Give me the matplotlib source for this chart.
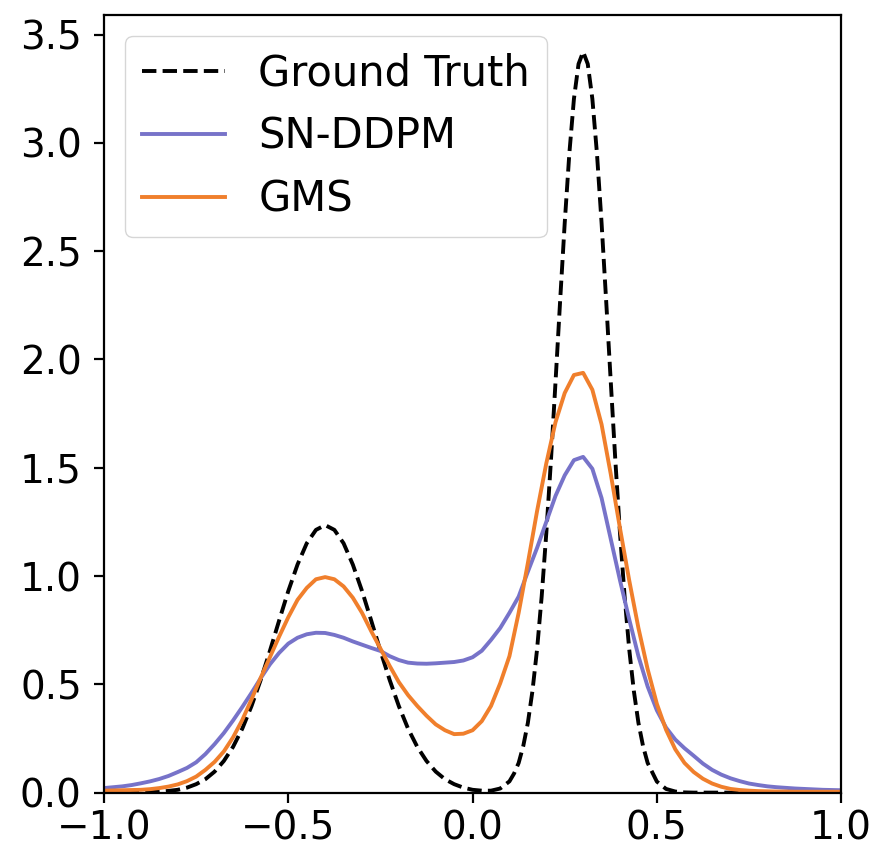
import matplotlib

matplotlib.use("Agg")
import matplotlib.pyplot as plt
import numpy as np

# common x grid for the two model densities (step 0.025)
x_grid = np.round(np.arange(-1.0, 1.0001, 0.025), 4)

sn_ddpm = [
    0.021, 0.025, 0.029, 0.035, 0.043, 0.052, 0.063, 0.077, 0.095, 0.114,
    0.140, 0.178, 0.224, 0.275, 0.333, 0.395, 0.460, 0.528, 0.592, 0.645,
    0.688, 0.715, 0.731, 0.738, 0.737, 0.728, 0.715, 0.698, 0.683, 0.668,
    0.654, 0.630, 0.612, 0.600, 0.596, 0.595, 0.597, 0.600, 0.603, 0.610,
    0.625, 0.655, 0.705, 0.760, 0.830, 0.905, 1.020, 1.130, 1.250, 1.370,
    1.465, 1.535, 1.550, 1.495, 1.360, 1.170, 0.980, 0.800, 0.630, 0.490,
    0.380, 0.300, 0.245, 0.205, 0.170, 0.134, 0.105, 0.083, 0.066, 0.053,
    0.042, 0.035, 0.029, 0.025, 0.022, 0.019, 0.017, 0.015, 0.013, 0.012,
    0.011,
]

gms = [
    0.009, 0.010, 0.011, 0.012, 0.013, 0.016, 0.021, 0.028, 0.038, 0.053,
    0.074, 0.105, 0.142, 0.190, 0.255, 0.335, 0.430, 0.530, 0.625, 0.720,
    0.810, 0.890, 0.945, 0.985, 0.995, 0.985, 0.952, 0.900, 0.830, 0.745,
    0.665, 0.585, 0.510, 0.450, 0.400, 0.355, 0.315, 0.288, 0.270, 0.272,
    0.288, 0.330, 0.400, 0.505, 0.630, 0.830, 1.060, 1.300, 1.520, 1.710,
    1.845, 1.928, 1.938, 1.860, 1.700, 1.470, 1.220, 0.980, 0.760, 0.570,
    0.410, 0.290, 0.200, 0.137, 0.095, 0.064, 0.042, 0.027, 0.017, 0.012,
    0.009, 0.007, 0.006, 0.005, 0.005, 0.004, 0.004, 0.004, 0.004, 0.004,
    0.004,
]

# ground truth, denser around the sharp right mode
gt_x = [
    -1.0, -0.975, -0.95, -0.925, -0.9, -0.875, -0.85, -0.825, -0.8, -0.775,
    -0.75, -0.725, -0.7, -0.675, -0.65, -0.625, -0.6, -0.575, -0.55, -0.525,
    -0.5, -0.475, -0.45, -0.425, -0.4, -0.375, -0.35, -0.325, -0.3, -0.275,
    -0.25, -0.225, -0.2, -0.175, -0.15, -0.125, -0.1, -0.075, -0.05, -0.025,
    0.0, 0.025, 0.05, 0.075, 0.1, 0.1125, 0.125, 0.1375, 0.15, 0.1625,
    0.175, 0.1875, 0.2, 0.2125, 0.225, 0.2375, 0.25, 0.2625, 0.275, 0.2875,
    0.3, 0.3125, 0.325, 0.3375, 0.35, 0.3625, 0.375, 0.3875, 0.4, 0.4125,
    0.425, 0.4375, 0.45, 0.4625, 0.475, 0.5, 0.525, 0.55, 0.575, 0.6,
    0.65, 0.7, 0.8, 0.9, 1.0,
]
gt_y = [
    0.000, 0.000, 0.000, 0.000, 0.001, 0.002, 0.004, 0.008, 0.013, 0.023,
    0.039, 0.062, 0.097, 0.146, 0.211, 0.295, 0.399, 0.520, 0.654, 0.794,
    0.931, 1.053, 1.151, 1.213, 1.235, 1.213, 1.151, 1.053, 0.931, 0.794,
    0.654, 0.520, 0.399, 0.295, 0.211, 0.146, 0.097, 0.062, 0.039, 0.023,
    0.013, 0.009, 0.009, 0.019, 0.052, 0.088, 0.137, 0.215, 0.322, 0.470,
    0.662, 0.906, 1.197, 1.530, 1.895, 2.269, 2.630, 2.950, 3.203, 3.364,
    3.420, 3.364, 3.203, 2.950, 2.630, 2.269, 1.895, 1.530, 1.197, 0.906,
    0.662, 0.470, 0.322, 0.215, 0.137, 0.051, 0.017, 0.005, 0.001, 0.000,
    0.000, 0.000, 0.000, 0.000, 0.000,
]

plt.rcParams["font.size"] = 28

fig = plt.figure(figsize=(8.78, 8.58), dpi=100)
ax = fig.add_axes([0.1185, 0.0762, 0.8395, 0.9063])

ax.plot(gt_x, gt_y, "--", color="black", lw=2.8, label="Ground Truth")
ax.plot(x_grid, sn_ddpm, "-", color="#7773c9", lw=2.8, label="SN-DDPM")
ax.plot(x_grid, gms, "-", color="#f07f2c", lw=2.8, label="GMS")

ax.set_xlim(-1.0, 1.0)
ax.set_ylim(0, 3.59)
ax.set_xticks([-1.0, -0.5, 0.0, 0.5, 1.0])
ax.set_yticks([0.0, 0.5, 1.0, 1.5, 2.0, 2.5, 3.0, 3.5])
for s in ax.spines.values():
    s.set_linewidth(1.6)
ax.tick_params(width=1.6, length=7)
ax.tick_params(axis="y", pad=9)
ax.tick_params(axis="x", pad=5)

ax.legend(loc="upper left", fontsize=30, handlelength=2.0, borderaxespad=0.5)

fig.savefig("out.png", dpi=100)
